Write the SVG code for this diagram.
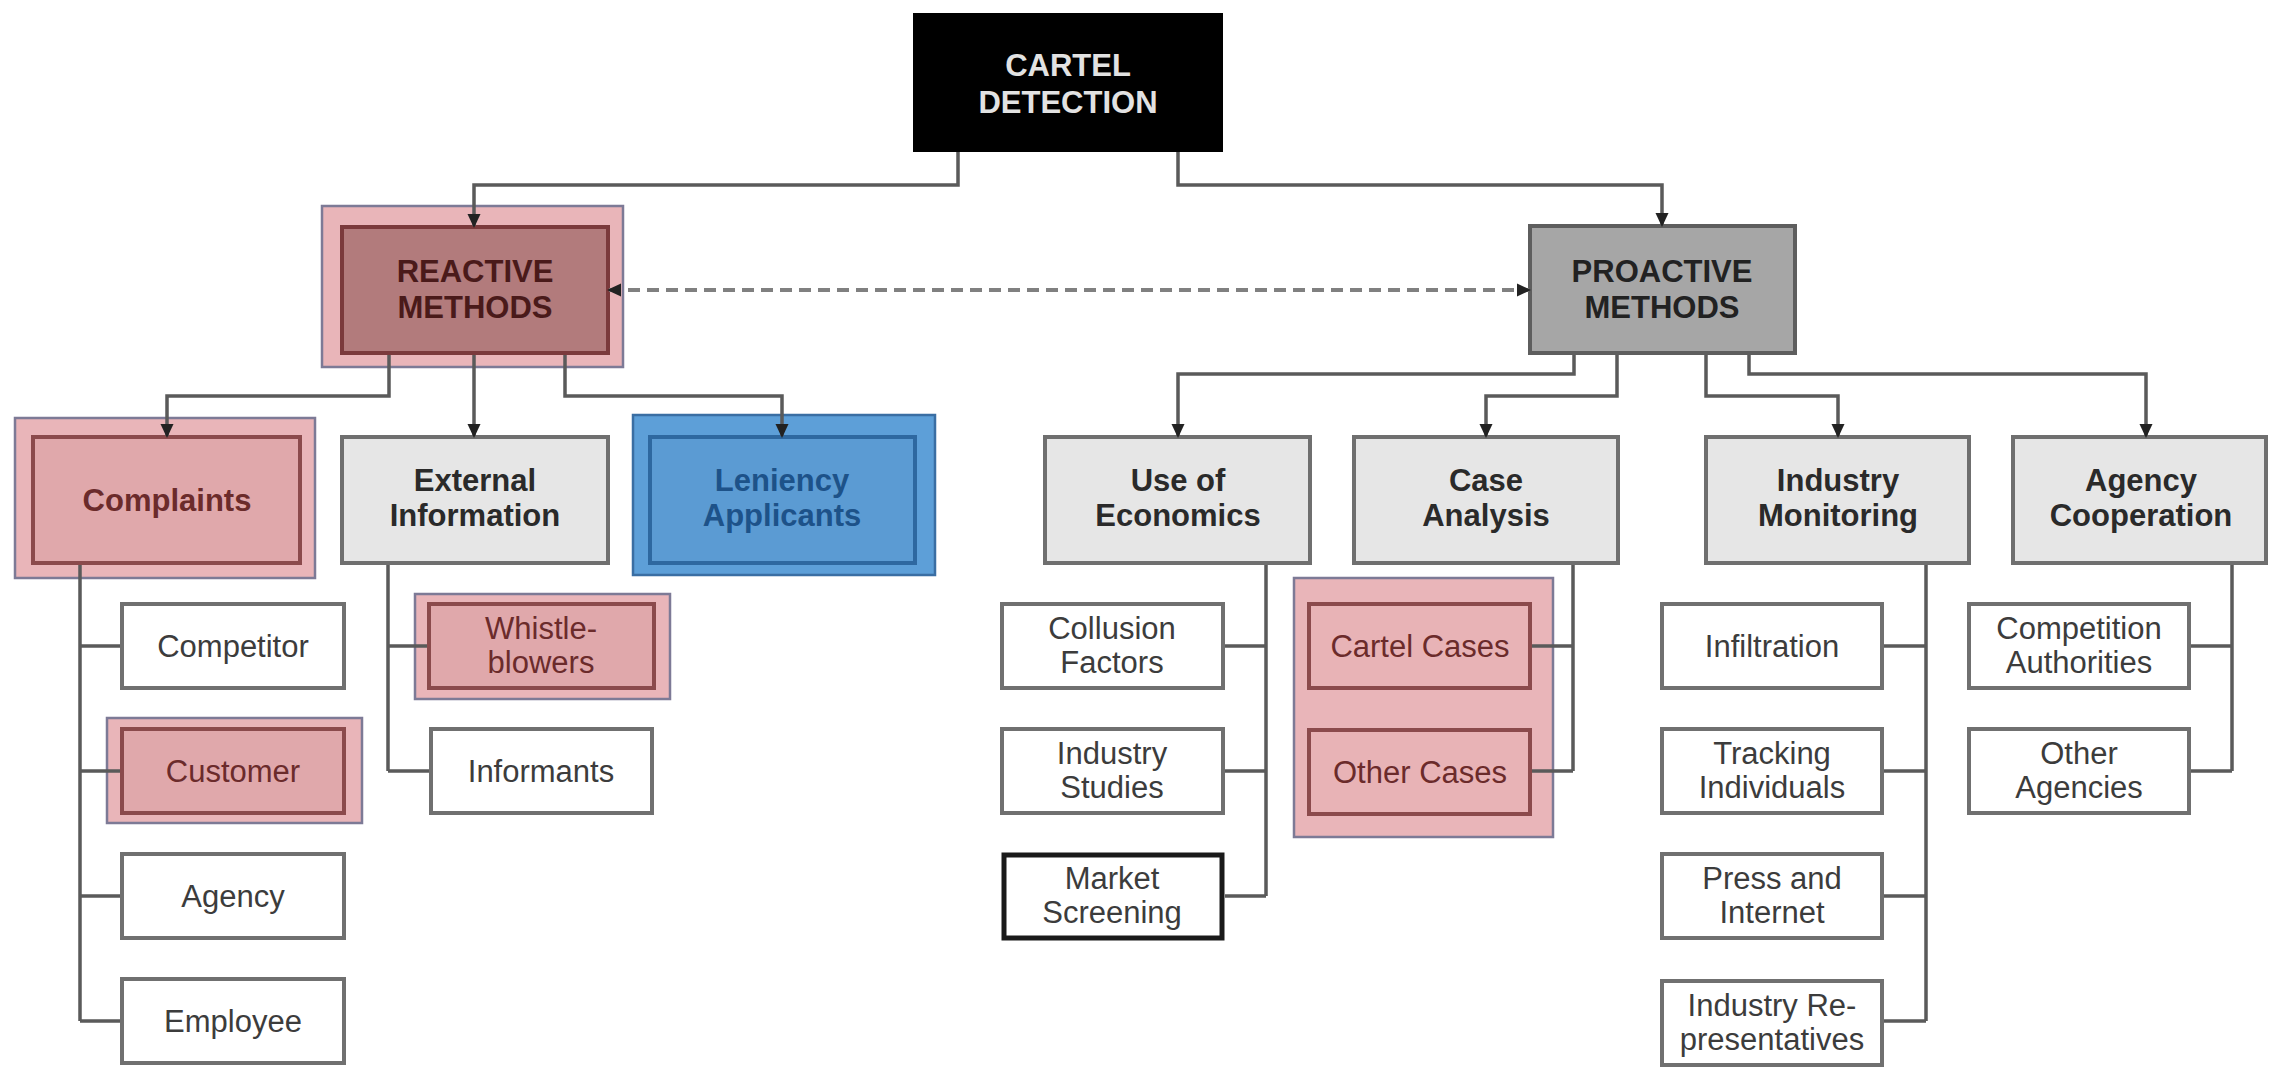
<svg xmlns="http://www.w3.org/2000/svg" width="2269" height="1067" viewBox="0 0 2269 1067">
<defs>
<marker id="arr" markerWidth="14" markerHeight="14" refX="12" refY="7" orient="auto" markerUnits="userSpaceOnUse">
<path d="M0,0.5 L14,7 L0,13.5 Z" fill="#222"/>
</marker>
<marker id="arrS" markerWidth="14" markerHeight="14" refX="2" refY="7" orient="auto" markerUnits="userSpaceOnUse">
<path d="M14,0.5 L0,7 L14,13.5 Z" fill="#222"/>
</marker>
<style>
text{font-family:"Liberation Sans",Arial,Helvetica,sans-serif;font-size:31px;text-anchor:middle}
.b{font-weight:bold}
.conn path{fill:none;stroke:#5a5a5a;stroke-width:3.5}
.hl{fill:#e9b5b9;stroke:#7d7a96;stroke-width:2.5}
.pk{fill:#e0a8ab;stroke:#8b4a4c;stroke-width:4}
.pkt{fill:#6b2b2b}
.l2{fill:#e6e6e6;stroke:#6f6f6f;stroke-width:4}
.l2t{fill:#2a2a2a}
.l3{fill:#ffffff;stroke:#707070;stroke-width:4}
.l3t{fill:#3c3c3c}
</style>
</defs>
<rect x="0" y="0" width="2269" height="1067" fill="#ffffff"/>

<g id="cartel-detection">
<rect x="913" y="13" width="310" height="139" fill="#000000"/>
<text class="b" x="1068" y="76" fill="#e2e2e2">CARTEL</text>
<text class="b" x="1068" y="113" fill="#e2e2e2">DETECTION</text>
</g>

<g id="reactive-methods">
<rect class="hl" x="322" y="206" width="301" height="161"/>
<rect x="342" y="227" width="266" height="126" fill="#b27b7c" stroke="#7b3a3c" stroke-width="4"/>
<text class="b" x="475" y="282" fill="#4a1a1a">REACTIVE</text>
<text class="b" x="475" y="318" fill="#4a1a1a">METHODS</text>
</g>

<g id="proactive-methods">
<rect x="1530" y="226" width="265" height="127" fill="#a6a6a6" stroke="#5e5e5e" stroke-width="4"/>
<text class="b" x="1662" y="282" fill="#222">PROACTIVE</text>
<text class="b" x="1662" y="318" fill="#222">METHODS</text>
</g>

<g id="complaints">
<rect class="hl" x="15" y="418" width="300" height="160"/>
<rect class="pk" x="33" y="437" width="267" height="126"/>
<text class="b pkt" x="167" y="511">Complaints</text>
</g>

<g id="external-information">
<rect class="l2" x="342" y="437" width="266" height="126"/>
<text class="b l2t" x="475" y="491">External</text>
<text class="b l2t" x="475" y="526">Information</text>
</g>

<g id="leniency-applicants">
<rect x="633" y="415" width="302" height="160" fill="#5d9fd8" stroke="#3a6ea3" stroke-width="2.5"/>
<rect x="650" y="437" width="265" height="126" fill="#5b9bd3" stroke="#2e68a0" stroke-width="4"/>
<text class="b" x="782" y="491" fill="#1d5289">Leniency</text>
<text class="b" x="782" y="526" fill="#1d5289">Applicants</text>
</g>

<g id="use-of-economics">
<rect class="l2" x="1045" y="437" width="265" height="126"/>
<text class="b l2t" x="1178" y="491">Use of</text>
<text class="b l2t" x="1178" y="526">Economics</text>
</g>

<g id="case-analysis">
<rect class="l2" x="1354" y="437" width="264" height="126"/>
<text class="b l2t" x="1486" y="491">Case</text>
<text class="b l2t" x="1486" y="526">Analysis</text>
</g>

<g id="industry-monitoring">
<rect class="l2" x="1706" y="437" width="263" height="126"/>
<text class="b l2t" x="1838" y="491">Industry</text>
<text class="b l2t" x="1838" y="526">Monitoring</text>
</g>

<g id="agency-cooperation">
<rect class="l2" x="2013" y="437" width="253" height="126"/>
<text class="b l2t" x="2141" y="491">Agency</text>
<text class="b l2t" x="2141" y="526">Cooperation</text>
</g>

<g id="competitor">
<rect class="l3" x="122" y="604" width="222" height="84"/>
<text class="l3t" x="233" y="657">Competitor</text>
</g>

<g id="customer">
<rect class="hl" x="107" y="718" width="255" height="105"/>
<rect class="pk" x="122" y="729" width="222" height="84"/>
<text class="pkt" x="233" y="782">Customer</text>
</g>

<g id="agency">
<rect class="l3" x="122" y="854" width="222" height="84"/>
<text class="l3t" x="233" y="907">Agency</text>
</g>

<g id="employee">
<rect class="l3" x="122" y="979" width="222" height="84"/>
<text class="l3t" x="233" y="1032">Employee</text>
</g>

<g id="whistle-blowers">
<rect class="hl" x="415" y="594" width="255" height="105"/>
<rect class="pk" x="429" y="604" width="225" height="84"/>
<text class="pkt" x="541" y="639">Whistle-</text>
<text class="pkt" x="541" y="673">blowers</text>
</g>

<g id="informants">
<rect class="l3" x="431" y="729" width="221" height="84"/>
<text class="l3t" x="541" y="782">Informants</text>
</g>

<g id="collusion-factors">
<rect class="l3" x="1002" y="604" width="221" height="84"/>
<text class="l3t" x="1112" y="639">Collusion</text>
<text class="l3t" x="1112" y="673">Factors</text>
</g>

<g id="industry-studies">
<rect class="l3" x="1002" y="729" width="221" height="84"/>
<text class="l3t" x="1112" y="764">Industry</text>
<text class="l3t" x="1112" y="798">Studies</text>
</g>

<g id="market-screening">
<rect x="1004" y="855" width="218" height="83" fill="#ffffff" stroke="#1a1a1a" stroke-width="5"/>
<text class="l3t" x="1112" y="889">Market</text>
<text class="l3t" x="1112" y="923">Screening</text>
</g>

<g id="case-group">
<rect class="hl" x="1294" y="578" width="259" height="259"/>
</g>

<g id="cartel-cases">
<rect class="pk" x="1309" y="604" width="221" height="84" style="fill:#e8b3b6"/>
<text class="pkt" x="1420" y="657">Cartel Cases</text>
</g>

<g id="other-cases">
<rect class="pk" x="1309" y="730" width="221" height="84" style="fill:#e8b3b6"/>
<text class="pkt" x="1420" y="783">Other Cases</text>
</g>

<g id="infiltration">
<rect class="l3" x="1662" y="604" width="220" height="84"/>
<text class="l3t" x="1772" y="657">Infiltration</text>
</g>

<g id="tracking-individuals">
<rect class="l3" x="1662" y="729" width="220" height="84"/>
<text class="l3t" x="1772" y="764">Tracking</text>
<text class="l3t" x="1772" y="798">Individuals</text>
</g>

<g id="press-and-internet">
<rect class="l3" x="1662" y="854" width="220" height="84"/>
<text class="l3t" x="1772" y="889">Press and</text>
<text class="l3t" x="1772" y="923">Internet</text>
</g>

<g id="industry-representatives">
<rect class="l3" x="1662" y="981" width="220" height="84"/>
<text class="l3t" x="1772" y="1016">Industry Re-</text>
<text class="l3t" x="1772" y="1050">presentatives</text>
</g>

<g id="competition-authorities">
<rect class="l3" x="1969" y="604" width="220" height="84"/>
<text class="l3t" x="2079" y="639">Competition</text>
<text class="l3t" x="2079" y="673">Authorities</text>
</g>

<g id="other-agencies">
<rect class="l3" x="1969" y="729" width="220" height="84"/>
<text class="l3t" x="2079" y="764">Other</text>
<text class="l3t" x="2079" y="798">Agencies</text>
</g>

<g id="connectors" class="conn">
<path d="M958,152 V185 H474 V226" marker-end="url(#arr)"/>
<path d="M1178,152 V185 H1662 V225" marker-end="url(#arr)"/>
<path d="M609,290 H1529" stroke-dasharray="12 7" style="stroke:#808080;stroke-width:4" marker-start="url(#arrS)" marker-end="url(#arr)"/>
<path d="M389,355 V396 H167 V436" marker-end="url(#arr)"/>
<path d="M474,355 V436" marker-end="url(#arr)"/>
<path d="M565,355 V396 H782 V436" marker-end="url(#arr)"/>
<path d="M1574,355 V374 H1178 V436" marker-end="url(#arr)"/>
<path d="M1617,355 V396 H1486 V436" marker-end="url(#arr)"/>
<path d="M1706,355 V396 H1838 V436" marker-end="url(#arr)"/>
<path d="M1749,355 V374 H2146 V436" marker-end="url(#arr)"/>
<path d="M80,565 V1021 M80,646 H120 M80,771 H120 M80,896 H120 M80,1021 H120"/>
<path d="M388,565 V771 M388,646 H427 M388,771 H429"/>
<path d="M1266,565 V896 M1266,646 H1225 M1266,771 H1225 M1266,896 H1225"/>
<path d="M1573,565 V771 M1573,646 H1532 M1573,771 H1532"/>
<path d="M1926,565 V1021 M1926,646 H1884 M1926,771 H1884 M1926,896 H1884 M1926,1021 H1884"/>
<path d="M2232,565 V771 M2232,646 H2191 M2232,771 H2191"/>
</g>
</svg>
